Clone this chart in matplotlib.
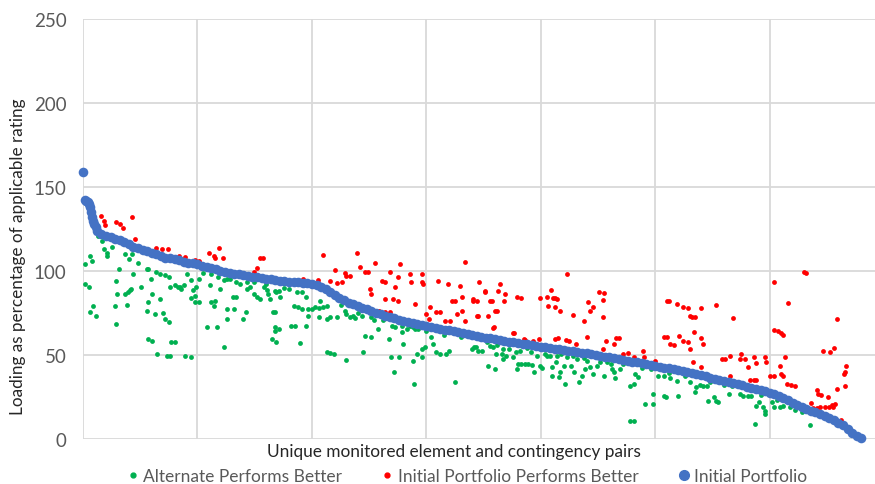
import matplotlib
matplotlib.use("Agg")
import matplotlib.pyplot as plt
from matplotlib.lines import Line2D
import numpy as np

plt.rcParams['font.family'] = ['Lato', 'DejaVu Sans']

# Initial portfolio loading, sorted descending, one value every 4th pair
initial = [159, 141, 132, 124, 122, 121, 120, 119, 118.5, 117, 116, 114.5, 113.5, 112.5,
           112, 111, 110, 109, 108, 107.5, 107, 106.5, 105.5, 105, 104.5, 104, 103, 102.5,
           101.5, 101, 100, 99.5, 99, 98.5, 98, 97.5, 97, 96.5, 96.3, 96, 95.5, 95, 94.5,
           94.2, 94, 93.7, 93.4, 93.2, 93, 92.7, 92.3, 91.5, 90.3, 89, 87.3, 85.5, 84, 82.5,
           81.2, 80.2, 79, 78, 77.2, 76.2, 75.2, 74.3, 73.5, 72.6, 71.8, 71, 70.3, 69.8,
           69.2, 68.5, 67.9, 67.4, 66.8, 66.2, 65.6, 65.1, 64.6, 64, 63.5, 63, 62.2, 61.9,
           61.4, 60.9, 60.4, 59.9, 59.4, 58.9, 58.4, 58, 57.6, 57.2, 56.8, 56.4, 56, 55.5,
           55, 54.6, 54.2, 53.8, 53.4, 53, 52.6, 52.2, 51.7, 51.3, 50.9, 50.4, 49.9, 49.5,
           49, 48.6, 48.2, 47.7, 47.2, 46.7, 46.1, 45.6, 45.1, 44.6, 44.1, 43.6, 43.1, 42.3,
           42, 41.5, 41, 40.4, 39.8, 39.2, 38.5, 37.9, 37.3, 36.6, 36, 35.4, 34.8, 34.1,
           33.4, 32.7, 32, 31.2, 30.3, 29.7, 29.2, 28.6, 27.6, 26.6, 25.5, 24.4, 23.2, 21.7,
           20, 18.9, 17.8, 16.8, 15.8, 14.8, 13.7, 12.5, 11.2, 9.8, 8.1, 5.8, 3.5, 1.8, 0.6]
initial_rank = np.arange(len(initial)) * 4

# a few extra pairs in the steep head of the curve
head_rank = [2, 3, 5, 6, 7, 9, 10, 11]
head_vals = [142, 141.5, 140, 138, 135, 130, 128, 126]

# Alternate performs better (pair rank, loading)
alt_better_x = [2, 6, 8, 2, 5, 9, 6, 11, 13, 17, 18, 21, 21, 25, 31, 29, 30, 28, 29, 37,
                40, 43, 37, 39, 41, 42, 38, 44, 51, 48, 56, 57, 59, 60, 57, 56, 57, 60, 63,
                67, 65, 70, 72, 75, 73, 76, 77, 80, 64, 67, 72, 75, 76, 80, 83, 85, 86, 88,
                91, 94, 96, 98, 98, 101, 99, 101, 94, 89, 94, 108, 117, 111, 114, 112, 115,
                120, 123, 126, 123, 126, 126, 131, 134, 132, 140, 142, 134, 137, 143, 146,
                149, 152, 155, 143, 149, 158, 161, 162, 163, 166, 168, 165, 169, 169,
                168, 171, 172, 168, 168, 171, 182, 185, 190, 195, 197, 187, 191, 195, 184,
                188, 191, 197, 200, 203, 206, 210, 213, 207, 206, 213, 216, 222, 229, 230,
                233, 236, 238, 244, 252, 254, 213, 216, 219, 230, 245, 246, 252, 258, 267,
                269, 272, 276, 279, 280, 270, 273, 279, 283, 288, 290, 293, 289, 288, 292,
                296, 299, 304, 306, 308, 312, 317, 320, 325, 343, 296,
                340, 342, 345, 349, 353, 354, 360, 361, 366, 367, 370, 376, 378, 380, 383,
                386, 389, 392, 394, 379, 397, 399, 401, 404, 408, 410, 410, 416, 417, 413,
                420, 421, 426, 429, 433, 436, 439, 443, 446, 449, 455, 461, 462, 464, 465,
                469, 478, 481, 482, 485, 491, 498, 498, 502, 509, 478, 481,
                356, 358, 367, 372, 382, 391, 405, 414, 423, 432, 440, 452,
                508, 513, 519, 520, 508, 530, 535, 536, 539, 542, 545, 546, 551, 553, 555,
                564, 574, 577, 581, 584, 588, 591, 594, 596, 596, 587, 602, 604, 609, 612,
                618, 628, 635, 567, 574,
                # dense band just under the curve
                105, 112, 118, 128, 160, 176, 180, 225, 240, 262, 286, 300, 315, 330, 362,
                388, 418, 428, 438, 458, 472, 488, 496, 512, 526, 548, 560, 592, 606, 622]
alt_better_y = [104.2, 109, 106, 92.3, 90.4, 79.4, 75.5, 73.5, 121, 118, 113, 111, 109, 114,
                101, 94, 86.3, 79.4, 68.5, 110, 107, 110, 86.3, 87.3, 88.9, 89.3, 79.8, 98.2,
                90.4, 105, 101, 101, 95.2, 86.3, 81.3, 76.4, 59.5, 58.5, 74.5, 83.3, 50.6,
                74.9, 71.4, 69.4, 49.6, 49.6, 58, 58, 99.4, 98.4, 97.4, 96.4, 90.4, 91.4,
                90.4, 90.4, 89.3, 91.4, 98.4, 94.4, 88.4, 85.4, 81.4, 81.4, 90.4, 95.4, 83.7,
                49.2, 49, 66.5, 66.5, 91.4, 79.4, 81.4, 82.4, 89.3, 94.4, 95.4, 54.5, 77.4,
                71.4, 84.3, 84.3, 77.4, 71.4, 75.5, 93.4, 92.4, 89.3, 90.4, 86.3, 84.3, 83.3,
                93.4, 93.4, 90.4, 88.4, 86.3, 83.3, 75.5, 64.5, 59.5, 57.5, 87.3,
                88.3, 88.3, 84.3, 75.4, 66.5, 65.5, 67.5, 67.1, 57.1, 67.5, 73.4, 87.3, 87.7,
                84.7, 79.4, 78.4, 77.4, 77.4, 77.4, 78.4, 77.8, 78.4, 79.4, 82.3, 72.4, 71.4,
                72.4, 72.4, 76.4, 74.4, 72.4, 73.4, 71.8, 73.4, 72.4, 71, 51.6, 51.2, 50.6,
                47, 51.6, 61.1, 60.5, 65.5, 59.5, 48.6, 39.7, 48.6, 63.5, 56.6, 67.5, 66.5,
                67.5, 65.5, 66.5, 65.5, 65.5, 32.7, 46.6, 50.6, 53.6, 54.6, 60.5, 56.6, 51.6,
                50.6, 50.6, 52.6, 34.1, 54.6, 48.6,
                53.6, 54.6, 52.6, 52.6, 57.5, 43.3, 41.7, 50.6, 50.6, 47.6, 49.6, 48.6, 51.6,
                44.6, 44.6, 44.6, 44.6, 44, 40.1, 41.7, 49.6, 43.3, 42.1, 50.6, 49.6, 42.7,
                37.3, 36.7, 39.7, 45.6, 43.7, 32.7, 43.7, 39.7, 33.7, 37.7, 41.7, 42.7, 38.7,
                43.7, 37.7, 44.6, 41.7, 39.7, 36.1, 41.7, 31.7, 32.7, 38.7, 36.7, 20.8, 20.8,
                26.8, 37.7, 24.8, 10.5, 10.5,
                55.6, 54.6, 53.6, 53.6, 52.6, 51.6, 49.6, 49.6, 48.6, 47.6, 46.6, 45.6,
                37.3, 36.1, 34.7, 25.8, 25.8, 33.7, 27.8, 30.8, 32.1, 31.3, 31.7, 22.8, 24.8,
                22.8, 21.8, 26.8, 26.8, 25.8, 25.8, 25.8, 19.8, 21.8, 18.8, 16.9, 14.9, 8.9,
                21.8, 18.8, 18.8, 19.8, 18.8, 15.9, 8.5, 31.7, 32.7,
                99, 98, 96.5, 95.5, 92, 90, 89.5, 80, 75, 71, 67, 64, 62, 60.5, 56,
                54, 50.5, 49.5, 48.5, 46, 44.5, 42.5, 41.5, 39.5, 37.5, 34, 32, 26, 23, 17]

# Initial portfolio performs better (pair rank, loading)
init_better_x = [16, 18, 19, 29, 32, 35, 43, 45, 64, 69, 74, 84, 89, 98, 101, 110, 114, 115,
                 119, 122, 149, 152, 155, 157,
                 210, 239, 220, 229, 230, 216, 222, 226, 233, 192, 205, 242, 246, 249, 255,
                 261, 264, 251, 252, 264, 271, 275, 268, 273, 275, 277, 286, 287, 296, 296,
                 297, 290, 300, 302, 303, 308, 312, 316, 321, 322, 325, 327, 331, 334, 331,
                 341, 329, 319, 310, 334, 259, 264, 268,
                 346, 341, 344, 351, 351, 356, 357, 345, 344, 354, 364, 363, 369, 368, 360,
                 362, 358, 359, 379, 383, 377, 386, 376, 385, 393, 398,
                 399, 405, 409, 411, 412, 414, 406, 412, 417, 423, 412, 415, 422, 425, 431,
                 428, 438, 440, 441, 443, 446, 451, 455, 454, 454, 457, 464, 466, 468, 454,
                 472, 476, 481, 489, 490, 500, 510, 508,
                 512, 519, 524, 529, 530, 532, 535, 540, 553, 568, 510, 513, 516, 521, 524,
                 529, 530, 534, 540, 542, 533, 540, 558, 561, 565, 575, 574, 578, 581, 586,
                 588, 596, 597, 565, 583, 586, 588, 600, 604, 609, 610, 612, 613, 615, 619,
                 622, 604, 616, 607, 610, 612, 604, 630, 632, 659, 647, 653, 656, 667, 666,
                 665, 666, 659, 641, 642, 645, 651, 654, 655, 657, 648, 644, 641, 636, 638,
                 662, 652]
init_better_y = [133, 130, 127.6, 129, 128, 125.6, 132.4, 119, 113.5, 112.8, 113, 108.8,
                 108.6, 106.5, 106, 111, 108.8, 107.6, 113.5, 107.8, 99.2, 102, 107.6, 107.6,
                 109.5, 110.5, 100.8, 98.8, 97.2, 94.2, 92.6, 93.3, 97.2, 95.2, 94.8, 102.6,
                 99.2, 99.2, 104.8, 94.2, 93.3, 89.3, 86.3, 83.3, 83.3, 82.3, 99.2, 90.3,
                 96.2, 104.2, 98.2, 93.7, 98.2, 93.3, 92.3, 80.4, 74.4, 71.4, 78.4, 75.8,
                 75.4, 70.4, 70.4, 82.3, 82.3, 74.4, 76.4, 70.4, 84.3, 82.3, 91.3, 92.3,
                 94.3, 105.2, 76.4, 75.4, 75.4,
                 93.7, 83.3, 82.3, 88.3, 87.3, 82.3, 82.3, 73.4, 73.4, 73.4, 92.3, 88.3,
                 86.3, 82.3, 76.4, 76.4, 65.9, 66.5, 84.3, 83.7, 63.1, 59.1, 63.1, 59.5,
                 58.5, 59.5,
                 83.7, 84.3, 88.9, 83.7, 83.7, 83.3, 79.4, 78.4, 76.4, 98.2, 59.5, 59.9,
                 59.1, 58.5, 56.5, 73.8, 70.4, 60.5, 81.3, 76.4, 78.4, 87.3, 86.9, 82.9,
                 72.4, 58.3, 56.3, 59.9, 59.9, 53.5, 50.6, 51.2, 48.6, 52.6, 48.6, 46.6,
                 82.3, 60.5,
                 82.3, 80.4, 78.4, 77.8, 73.4, 72.4, 72.4, 77.8, 79.8, 72, 60.5, 56.5, 55.9,
                 61.5, 58.5, 57.5, 53.6, 63.9, 59.9, 56.5, 45.6, 42.7, 47.6, 47.6, 49.6,
                 50.6, 47.6, 47.6, 42.7, 48.6, 45.2, 48.6, 45.6, 37.3, 35.3, 35.3, 35.3,
                 37.7, 37.3, 43.7, 38.7, 37.7, 48.6, 32.7, 32.1, 31.3, 93.7, 80.9, 64.5,
                 63.1, 61.9, 65.1, 99.6, 98.8, 71.4, 52.6, 52, 53.9, 43.5, 39.7, 38.7, 31.7,
                 29.8, 29, 27, 26, 25, 20.2, 19.2, 20.8, 19.2, 19.2, 18.3, 21.2, 18.3, 11.3,
                 19.2]

GREEN = "#00B050"
RED = "#FF0000"
BLUE = "#4472C4"

fig = plt.figure(figsize=(8.75, 4.85), dpi=100)
ax = fig.add_axes([0.0949, 0.0928, 0.9051, 0.866])

ax.scatter(alt_better_x, alt_better_y, s=12, color=GREEN, linewidths=0, zorder=3)
ax.scatter(init_better_x, init_better_y, s=12, color=RED, linewidths=0, zorder=3)
ax.scatter(initial_rank, initial, s=48, color=BLUE, linewidths=0, zorder=4, clip_on=False)
ax.scatter(head_rank, head_vals, s=48, color=BLUE, linewidths=0, zorder=4, clip_on=False)

ax.set_xlim(0, 692)
ax.set_ylim(0, 250)
ax.set_yticks(range(0, 251, 50))
ax.set_xticks(range(0, 692, 100))
ax.set_xticklabels([])
ax.tick_params(length=0, labelsize=13.5, labelcolor="#595959", pad=12)
ax.grid(color="#D9D9D9", linewidth=1.3)
ax.set_axisbelow(True)
for s in ax.spines.values():
    s.set_visible(False)

fig.text(0.021, 0.47, "Loading as percentage of applicable rating", rotation=90,
         ha="center", va="center", fontsize=12.3, color="#262626")
fig.text(0.519, 1 - 452 / 485, "Unique monitored element and contingency pairs",
         ha="center", va="center", fontsize=12.4, color="#262626")

handles = [Line2D([], [], ls="", marker="o", ms=3.5, color=GREEN),
           Line2D([], [], ls="", marker="o", ms=3.5, color=RED),
           Line2D([], [], ls="", marker="o", ms=7, color=BLUE)]
labels = ["Alternate Performs Better", "Initial Portfolio Performs Better", "Initial Portfolio"]
fig.legend(handles, labels, loc="center", bbox_to_anchor=(0.533, 1 - 477 / 485), ncol=3,
           frameon=False, fontsize=12.5, columnspacing=2.2, handletextpad=0.2,
           handlelength=0.8, labelcolor="#595959")

fig.savefig("out.png", dpi=100)
